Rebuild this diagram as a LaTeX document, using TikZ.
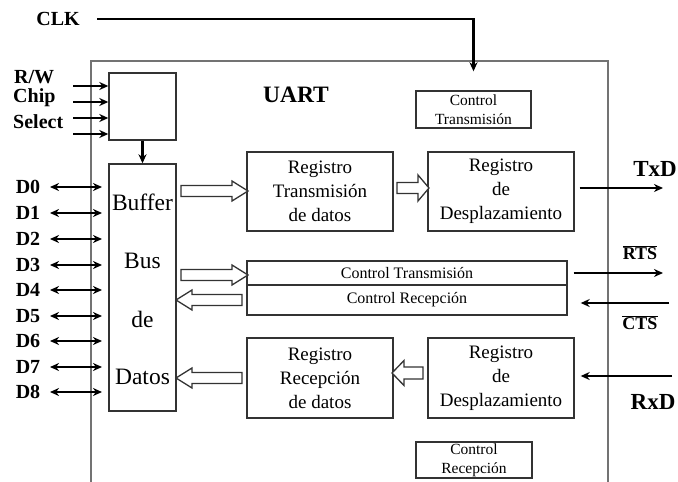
\documentclass[tikz,border=0pt]{standalone}
\usepackage{fontspec}
\setmainfont{Liberation Serif}
\usetikzlibrary{arrows.meta,calc}
\begin{document}
\begin{tikzpicture}[x=1pt,y=-1pt,
  box/.style={draw=black!80,line width=1.4pt,rectangle,inner sep=0pt,align=center},
  outer/.style={draw=black!55,line width=1.8pt},
  sig/.style={line width=2.3pt,black},
  tip/.style={-{Stealth[length=9pt,width=8pt]}},
  dtip/.style={{Stealth[length=9pt,width=8pt]}-{Stealth[length=9pt,width=8pt]}},
  lbl/.style={font=\fontsize{20}{22}\selectfont\bfseries,inner sep=0pt},
  big/.style={font=\fontsize{19}{24}\selectfont},
  mid/.style={font=\fontsize{16}{18}\selectfont},
  sml/.style={font=\fontsize{15.5}{19}\selectfont},
  hl/.style={draw=black!80,line width=1.3pt,fill=white},
  pics/harrow/.style n args={4}{code={\draw[hl] (0,-#4) -- ({#1-#2},-#4) -- ({#1-#2},-#3) -- (#1,0) -- ({#1-#2},#3) -- ({#1-#2},#4) -- (0,#4) -- cycle;}}
]
\useasboundingbox (0,0) rectangle (678,482);
% UART outline
\draw[outer] (91,482) -- (91,61) -- (608,61) -- (608,482);
\node[font=\fontsize{23.5}{26}\selectfont\bfseries] (uart) at (296,95) {UART};

% boxes
\node[box,minimum width=67pt,minimum height=67pt] (sel) at (142.5,106.5) {};
\node[box,minimum width=67pt,minimum height=247pt] (buf) at (142.5,287.5) {};
\node[font=\fontsize{23.5}{26}\selectfont] (tb1) at (142.5,202) {Buffer};
\node[font=\fontsize{23.5}{26}\selectfont] (tb2) at (142.5,261) {Bus};
\node[font=\fontsize{23.5}{26}\selectfont] (tb3) at (142.5,319) {de};
\node[font=\fontsize{23.5}{26}\selectfont] (tb4) at (142.5,377) {Datos};

\node[box,sml,minimum width=115pt,minimum height=37pt] (ctT) at (473.5,109.5) {Control\\Transmisión};
\node[box,sml,minimum width=116pt,minimum height=36pt] (ctR) at (474,460) {Control\\Recepción};

\node[box,big,minimum width=146pt,minimum height=79pt] (regT) at (320,191.5) {Registro\\Transmisión\\de datos};
\node[box,big,minimum width=146pt,minimum height=79pt] (desT) at (501,191.5) {Registro\\de\\Desplazamiento};
\node[box,mid,minimum width=320pt,minimum height=24pt] (cT) at (407,273) {Control Transmisión};
\node[box,mid,minimum width=320pt,minimum height=30pt] (cR) at (407,300) {Control Recepción};
\node[box,big,minimum width=146pt,minimum height=80pt] (regR) at (320,378) {Registro\\Recepción\\de datos};
\node[box,big,minimum width=146pt,minimum height=80pt] (desR) at (501,378) {Registro\\de\\Desplazamiento};

% CLK
\node[lbl] (clk) at (58,19) {CLK};
\coordinate (clks) at (97,19);
\draw[sig,tip,shorten >=19pt] (clks) -| (ctT.north);

% control inputs
\node[lbl,anchor=west] (rw) at (14,77) {R/W};
\node[lbl,anchor=west] (chip) at (13,98) {Chip};
\node[lbl,anchor=west] (selt) at (13,122) {Select};
\foreach \y in {86,102,118,134}{
  \coordinate (in\y) at (73,\y);
  \draw[sig,tip] (in\y) -- (sel.west |- in\y);
}
\draw[sig,tip] (sel.south) -- (buf.north);

% data lines
\foreach \i/\y in {0/187,1/213,2/239,3/265,4/290,5/316,6/341,7/367,8/392}{
  \node[lbl] (d\i) at (28,\y) {D\i};
  \coordinate (dl\i) at (50,\y);
  \coordinate (dr\i) at (102,\y);
  \draw[sig,dtip] (dl\i) -- (dr\i);
}

% hollow arrows
\pic at (181,191) {harrow={67}{16}{10}{5.5}};
\pic at (181,275) {harrow={67}{16}{10}{5.5}};
\pic[rotate=180] at (242,300) {harrow={66}{16}{10}{5.5}};
\pic[rotate=180] at (242,378) {harrow={66}{16}{10}{5.5}};
\pic at (397,188) {harrow={32}{11}{13}{5.5}};
\pic[rotate=180] at (423,373) {harrow={31}{12}{12.5}{6}};

% external signals
\coordinate (txd) at (663,188);
\draw[sig,tip] ([xshift=5pt]desT.east |- txd) -- (txd);
\node[font=\fontsize{23}{26}\selectfont\bfseries] (txl) at (655,169) {TxD};

\coordinate (rts) at (663,273);
\draw[sig,tip] ([xshift=6pt]cT.east) -- (rts);
\node[font=\fontsize{18}{20}\selectfont\bfseries] (rtsl) at (640,253) {$\overline{\hbox{\bfseries RTS}}$};

\coordinate (cts) at (669,303);
\draw[sig,tip] (cts) -- ([xshift=13pt]cR.east |- cts);
\node[font=\fontsize{18}{20}\selectfont\bfseries] (ctsl) at (640,323) {$\overline{\hbox{\bfseries CTS}}$};

\coordinate (rxd) at (672,376);
\draw[sig,tip] (rxd) -- ([xshift=6pt]desR.east |- rxd);
\node[font=\fontsize{23}{26}\selectfont\bfseries] (rxl) at (653,402) {RxD};
\end{tikzpicture}
\end{document}
